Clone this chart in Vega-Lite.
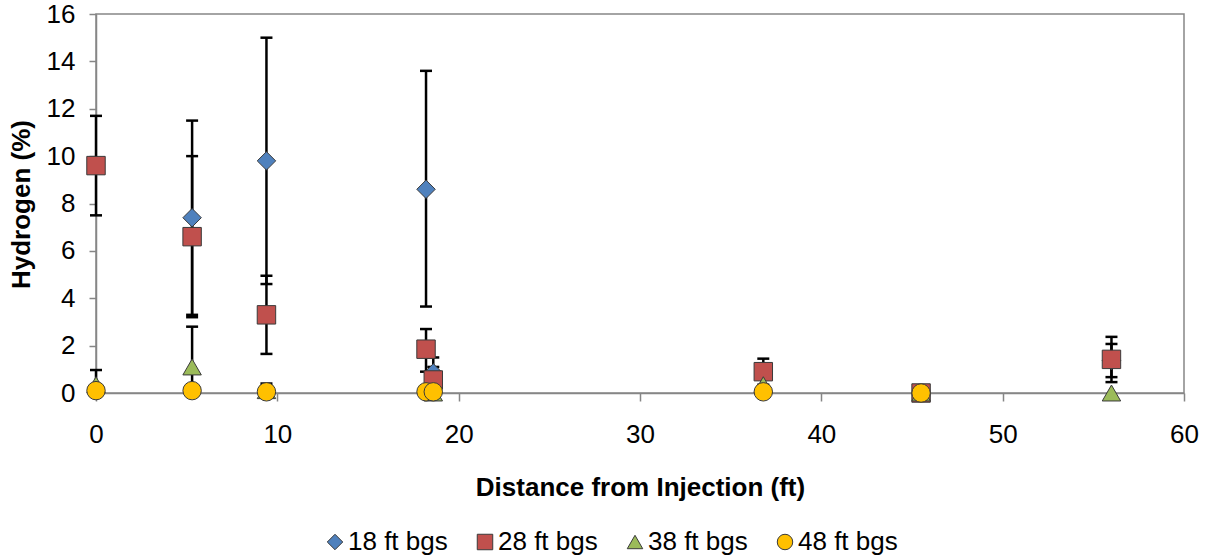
{
  "$schema": "https://vega.github.io/schema/vega-lite/v6.json",
  "width": 1088,
  "height": 379,
  "autosize": {"type": "none"},
  "padding": {"left": 96, "top": 14, "right": 23, "bottom": 167},
  "background": "white",
  "config": {
    "font": "Liberation Sans",
    "view": {"stroke": "#868686", "strokeWidth": 1.5},
    "axis": {"domainColor": "#868686", "domainWidth": 1.5, "tickColor": "#868686", "tickWidth": 1.5, "grid": false, "labelColor": "black", "titleColor": "black", "labelFont": "Liberation Sans", "titleFont": "Liberation Sans"}
  },
  "data": {
    "values": [
      {"series": "18 ft bgs", "x": 5.3, "y": 7.4, "lo": 3.3, "hi": 11.5},
      {"series": "18 ft bgs", "x": 9.4, "y": 9.8, "lo": 4.6, "hi": 15.0},
      {"series": "18 ft bgs", "x": 18.2, "y": 8.6, "lo": 3.65, "hi": 13.6},
      {"series": "18 ft bgs", "x": 18.6, "y": 0.85, "lo": 0.2, "hi": 1.5},
      {"series": "18 ft bgs", "x": 56.0, "y": 1.37, "lo": 0.67, "hi": 2.07},
      {"series": "28 ft bgs", "x": 0.0, "y": 9.6, "lo": 7.5, "hi": 11.7},
      {"series": "28 ft bgs", "x": 5.3, "y": 6.6, "lo": 3.2, "hi": 10.0},
      {"series": "28 ft bgs", "x": 9.4, "y": 3.3, "lo": 1.65, "hi": 4.95},
      {"series": "28 ft bgs", "x": 18.2, "y": 1.85, "lo": 0.9, "hi": 2.7},
      {"series": "28 ft bgs", "x": 18.6, "y": 0.55, "lo": 0.0, "hi": 1.1},
      {"series": "28 ft bgs", "x": 36.8, "y": 0.9, "lo": 0.35, "hi": 1.45},
      {"series": "28 ft bgs", "x": 45.5, "y": 0.0},
      {"series": "28 ft bgs", "x": 56.0, "y": 1.42, "lo": 0.46, "hi": 2.37},
      {"series": "38 ft bgs", "x": 0.0, "y": 0.35, "lo": 0.0, "hi": 0.97},
      {"series": "38 ft bgs", "x": 5.3, "y": 1.1, "lo": 0.0, "hi": 2.8},
      {"series": "38 ft bgs", "x": 9.4, "y": 0.1, "lo": 0.0, "hi": 0.4},
      {"series": "38 ft bgs", "x": 18.6, "y": 0.0},
      {"series": "38 ft bgs", "x": 36.8, "y": 0.35},
      {"series": "38 ft bgs", "x": 45.5, "y": 0.0},
      {"series": "38 ft bgs", "x": 56.0, "y": 0.0},
      {"series": "48 ft bgs", "x": 0.0, "y": 0.1},
      {"series": "48 ft bgs", "x": 5.3, "y": 0.1},
      {"series": "48 ft bgs", "x": 9.4, "y": 0.05},
      {"series": "48 ft bgs", "x": 18.2, "y": 0.05},
      {"series": "48 ft bgs", "x": 18.6, "y": 0.05},
      {"series": "48 ft bgs", "x": 36.8, "y": 0.05},
      {"series": "48 ft bgs", "x": 45.5, "y": 0.0}
    ]
  },
  "encoding": {
    "x": {
      "field": "x", "type": "quantitative",
      "scale": {"domain": [0, 60], "nice": false, "zero": false},
      "axis": {"values": [0, 10, 20, 30, 40, 50, 60], "tickSize": 8, "labelPadding": 20, "labelFontSize": 26, "labelFlush": false, "title": "Distance from Injection (ft)", "titleFontSize": 26, "titleFontWeight": "bold", "titleY": 94, "titleBaseline": "middle"}
    }
  },
  "layer": [
    {
      "transform": [{"filter": "isValid(datum.hi)"}],
      "mark": {"type": "rule", "color": "black", "strokeWidth": 2.5},
      "encoding": {
        "y": {"field": "lo", "type": "quantitative", "scale": {"domain": [0, 16], "nice": false}},
        "y2": {"field": "hi"}
      }
    },
    {
      "transform": [{"filter": "isValid(datum.hi)"}],
      "mark": {"type": "tick", "orient": "horizontal", "color": "black", "size": 12, "thickness": 2.5, "opacity": 1},
      "encoding": {"y": {"field": "lo", "type": "quantitative"}}
    },
    {
      "transform": [{"filter": "isValid(datum.hi)"}],
      "mark": {"type": "tick", "orient": "horizontal", "color": "black", "size": 12, "thickness": 2.5, "opacity": 1},
      "encoding": {"y": {"field": "hi", "type": "quantitative"}}
    },
    {
      "mark": {"type": "point", "filled": true, "size": 340, "stroke": "#3a3a3a", "strokeWidth": 1, "opacity": 1},
      "encoding": {
        "y": {
          "field": "y", "type": "quantitative",
          "axis": {"values": [0, 2, 4, 6, 8, 10, 12, 14, 16], "tickSize": 7, "labelPadding": 14, "labelFontSize": 26, "title": "Hydrogen (%)", "titleFontSize": 26, "titleFontWeight": "bold", "titleX": -75, "titleY": 190, "titleAngle": -90, "titleBaseline": "middle", "titleAlign": "center"}
        },
        "color": {
          "field": "series", "type": "nominal",
          "scale": {"domain": ["18 ft bgs", "28 ft bgs", "38 ft bgs", "48 ft bgs"], "range": ["#4F81BD", "#C0504D", "#9BBB59", "#FFC000"]},
          "legend": {"title": null, "orient": "none", "direction": "horizontal", "legendX": 226, "legendY": 515, "labelFontSize": 26, "symbolSize": 240, "symbolStrokeColor": "#3a3a3a", "symbolStrokeWidth": 1, "labelOffset": 0, "columnPadding": 24, "labelFont": "Liberation Sans", "labelColor": "black"}
        },
        "shape": {
          "field": "series", "type": "nominal",
          "scale": {"domain": ["18 ft bgs", "28 ft bgs", "38 ft bgs", "48 ft bgs"], "range": ["diamond", "square", "triangle-up", "circle"]},
          "legend": null
        }
      }
    }
  ]
}
